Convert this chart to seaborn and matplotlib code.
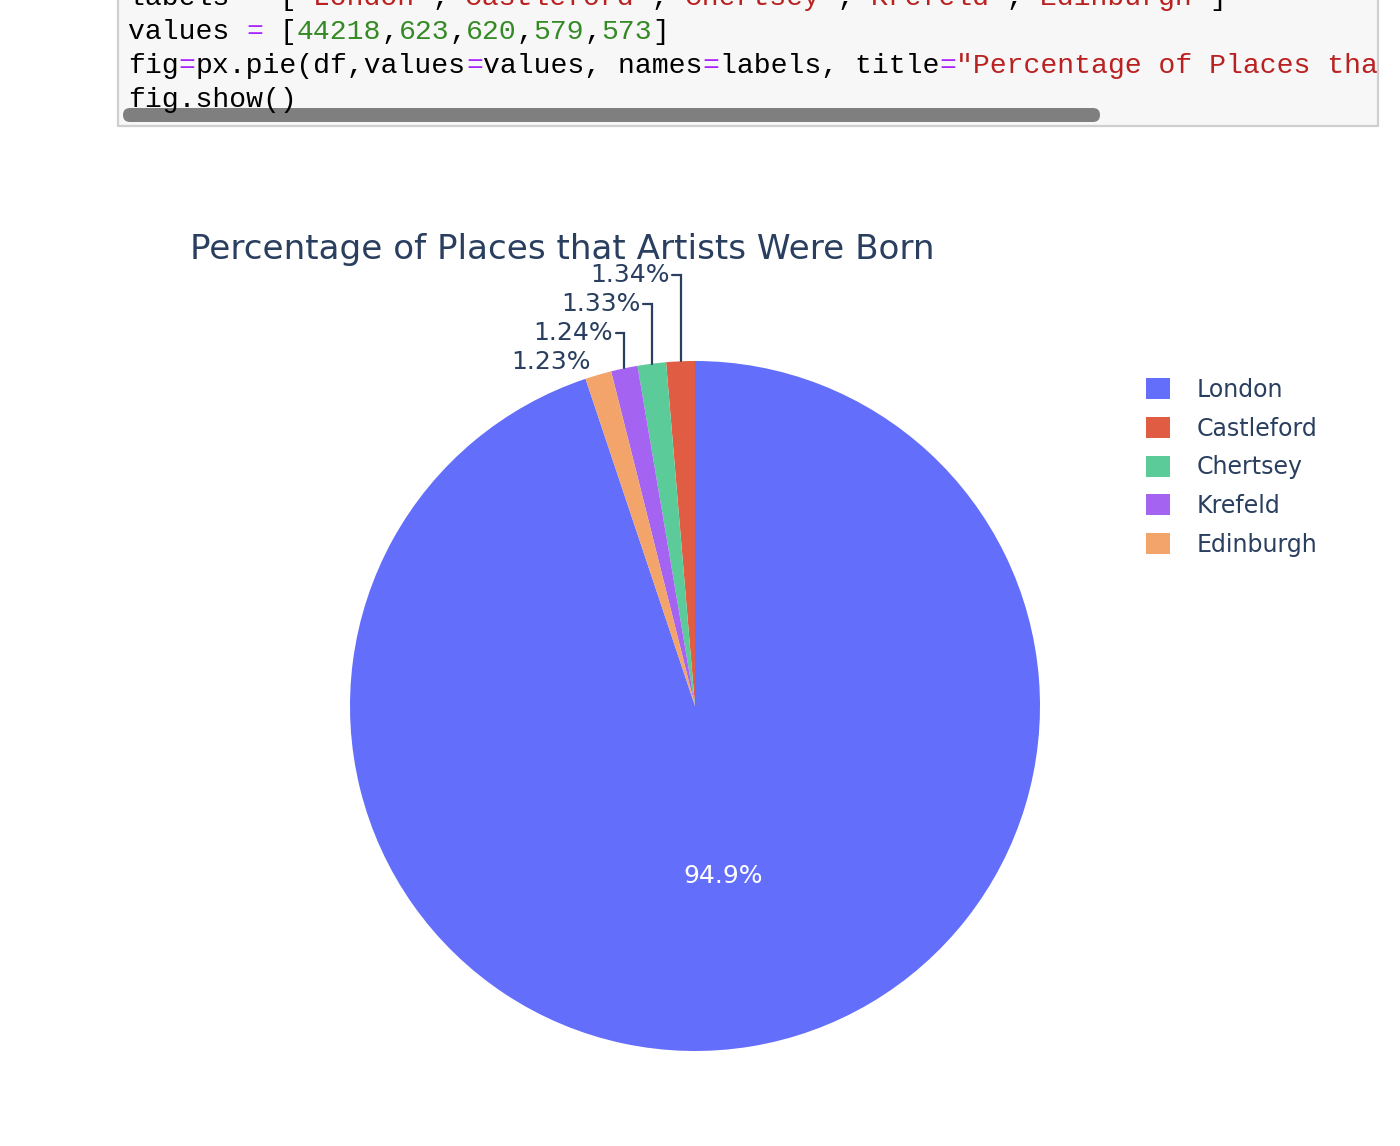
"""
Pie of where artists were born, laid out like a notebook cell with a
plotly pie underneath it.
"""

import numpy as np
import matplotlib
matplotlib.use("Agg")
import matplotlib.pyplot as plt
import matplotlib.patches as mpatches
import seaborn as sns

# ── Data ───────────────────────────────────────────────────────────────────────
labels = ["London", "Castleford", "Chertsey", "Krefeld", "Edinburgh"]
values = [44218, 623, 620, 579, 573]
colors = ["#636efa", "#e05d44", "#5ccb9a", "#a563f2", "#f2a46a"]
title = "Percentage of Places that Artists Were Born"

# ── Style ──────────────────────────────────────────────────────────────────────
TXT = "#2a3f5f"
CODE = {"k": "#000000", "op": "#aa22ff", "str": "#ba2121", "num": "#358a25"}
W, H = 1400, 1146

sns.set_theme(style="white")
plt.rcParams["font.family"] = ["DejaVu Sans"]

fig = plt.figure(figsize=(W / 100, H / 100), dpi=100)
fig.patch.set_facecolor("white")

# ── Code cell at the top ───────────────────────────────────────────────────────
cax = fig.add_axes([0, 1 - 140 / H, 1, 140 / H])
cax.set_xlim(0, W)
cax.set_ylim(140, 0)
cax.axis("off")

box = mpatches.Rectangle((118, -30), 1378 - 118, 126 + 30,
                         facecolor="#f7f7f7", edgecolor="#cfcfcf", lw=1.6)
cax.add_patch(box)
cax.add_patch(mpatches.FancyBboxPatch((123, 108), 977, 14,
                                      boxstyle="round,pad=0,rounding_size=7",
                                      facecolor="#7f7f7f", edgecolor="none"))

line1 = [("labels ", "k"), ("=", "op"), (" [", "k")]
for i, name in enumerate(labels):
    if i:
        line1.append((",", "k"))
    line1.append((f'"{name}"', "str"))
line1.append(("]", "k"))

line2 = [("values ", "k"), ("=", "op"), (" [", "k")]
for i, v in enumerate(values):
    if i:
        line2.append((",", "k"))
    line2.append((str(v), "num"))
line2.append(("]", "k"))

line3 = [("fig", "k"), ("=", "op"), ("px.pie(df,values", "k"), ("=", "op"),
         ("values, names", "k"), ("=", "op"), ("labels, title", "k"), ("=", "op"),
         (f'"{title}"', "str"), (")", "k")]
line4 = [("fig.show()", "k")]

cw = 16.9
for base, toks in zip([5, 39, 73, 107], [line1, line2, line3, line4]):
    col = 0
    for s, kind in toks:
        t = cax.text(128 + col * cw, base, s, family="Liberation Mono",
                     fontsize=cw / 0.6 * 0.72, color=CODE[kind],
                     ha="left", va="baseline")
        t.set_clip_path(box)
        t.set_clip_on(True)
        col += len(s)

# ── Pie ────────────────────────────────────────────────────────────────────────
# plotly draws counter-clockwise with the first (big) slice ending at 12 o'clock
cx, cy, r = 695, 706, 345
frac = np.array(values) / np.sum(values)
ax = fig.add_axes([(cx - r) / W, 1 - (cy + r) / H, 2 * r / W, 2 * r / H])
wedges, _ = ax.pie(values, colors=colors, startangle=90 + 360 * (1 - frac[0]),
                   counterclock=True, radius=1, wedgeprops=dict(linewidth=0))
ax.set_xlim(-1, 1)
ax.set_ylim(-1, 1)
ax.axis("off")

pct = frac * 100
label_y = [None, 1.25, 1.166, 1.082, None]

for i, (w, p) in enumerate(zip(wedges, pct)):
    mid = np.deg2rad((w.theta1 + w.theta2) / 2)
    xe, ye = np.cos(mid), np.sin(mid)
    txt = f"{p:.3g}%"
    if i == 0:
        ax.text(0.5 * xe, 0.5 * ye, txt, color="white", fontsize=18,
                ha="center", va="center")
    elif label_y[i] is not None:
        ly = label_y[i]
        ax.plot([xe, xe, xe - 0.025], [ye, ly, ly], color=TXT, lw=1.6,
                clip_on=False, solid_joinstyle="miter")
        ax.text(xe - 0.032, ly, txt, color=TXT, fontsize=18,
                ha="right", va="center")
    else:
        ax.text(xe - 0.022, ye + 0.037, txt, color=TXT, fontsize=18,
                ha="right", va="center")

fig.text(190 / W, 1 - 249 / H, title, color=TXT, fontsize=24.6,
         ha="left", va="center")

handles = [mpatches.Patch(facecolor=c, edgecolor="none", label=l)
           for l, c in zip(labels, colors)]
fig.legend(handles=handles, loc="upper left",
           bbox_to_anchor=(1146 / W, 1 - 378 / H), frameon=False,
           fontsize=17, labelcolor=TXT, handlelength=1.0, handleheight=1.0,
           handletextpad=1.15, labelspacing=0.62, borderpad=0,
           borderaxespad=0)

fig.savefig("out.png", dpi=100)
